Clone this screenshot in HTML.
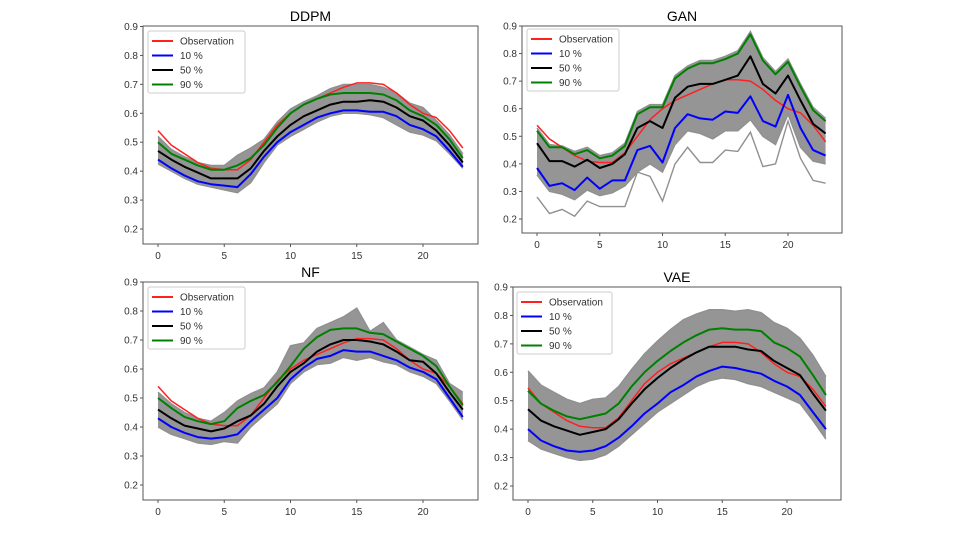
<!DOCTYPE html>
<html><head><meta charset="utf-8"><style>
body{margin:0;background:#fff;}
svg{display:block;font-family:"Liberation Sans",sans-serif;}
</style></head><body>
<svg id="c" width="960" height="540"></svg>
<script>
const hours = Array.from({length:24},(_,i)=>i);
const xTicks = [0,5,10,15,20];
const yTicks = [0.2,0.3,0.4,0.5,0.6,0.7,0.8,0.9];
const obs = [0.54,0.49,0.46,0.43,0.41,0.405,0.405,0.44,0.50,0.56,0.60,0.63,0.65,0.67,0.69,0.705,0.705,0.70,0.67,0.63,0.60,0.585,0.54,0.48];

const ddpmP10 = [0.44,0.41,0.385,0.365,0.355,0.35,0.345,0.39,0.45,0.50,0.535,0.56,0.585,0.60,0.61,0.61,0.605,0.605,0.59,0.56,0.545,0.52,0.47,0.415];
const ddpmP50 = [0.47,0.44,0.415,0.395,0.375,0.375,0.375,0.41,0.47,0.52,0.56,0.59,0.61,0.63,0.64,0.64,0.645,0.64,0.62,0.59,0.575,0.54,0.49,0.43];
const ddpmP90 = [0.50,0.46,0.44,0.42,0.405,0.405,0.42,0.445,0.49,0.55,0.60,0.63,0.65,0.665,0.67,0.67,0.67,0.665,0.645,0.61,0.59,0.56,0.51,0.445];
const ddpmLo = [0.425,0.40,0.375,0.355,0.345,0.335,0.325,0.36,0.43,0.49,0.52,0.545,0.57,0.59,0.60,0.60,0.595,0.585,0.56,0.535,0.525,0.505,0.46,0.41];
const ddpmHi = [0.52,0.475,0.45,0.43,0.42,0.42,0.455,0.48,0.51,0.57,0.615,0.64,0.66,0.685,0.70,0.70,0.70,0.69,0.67,0.635,0.62,0.575,0.525,0.46];

const ganP10 = [0.385,0.32,0.33,0.305,0.35,0.31,0.34,0.34,0.45,0.465,0.405,0.53,0.58,0.565,0.56,0.59,0.585,0.645,0.555,0.535,0.65,0.53,0.45,0.43];
const ganP50 = [0.475,0.41,0.41,0.39,0.415,0.385,0.40,0.435,0.53,0.555,0.53,0.64,0.68,0.69,0.69,0.705,0.72,0.79,0.69,0.655,0.72,0.63,0.545,0.51];
const ganP90 = [0.52,0.46,0.46,0.435,0.45,0.42,0.43,0.465,0.58,0.605,0.605,0.71,0.745,0.765,0.765,0.78,0.80,0.87,0.775,0.725,0.77,0.68,0.595,0.555];
const ganLo = [0.36,0.30,0.29,0.27,0.305,0.285,0.295,0.32,0.37,0.40,0.37,0.47,0.52,0.51,0.49,0.52,0.52,0.56,0.50,0.47,0.58,0.46,0.41,0.40];
const ganHi = [0.53,0.47,0.465,0.445,0.46,0.43,0.44,0.475,0.59,0.615,0.615,0.72,0.755,0.775,0.775,0.79,0.81,0.88,0.785,0.735,0.78,0.69,0.605,0.565];
const ganOut = [0.28,0.22,0.235,0.21,0.265,0.245,0.245,0.245,0.37,0.355,0.265,0.40,0.46,0.405,0.405,0.45,0.445,0.515,0.39,0.40,0.555,0.42,0.34,0.33];

const nfP10 = [0.43,0.40,0.38,0.365,0.36,0.365,0.375,0.42,0.46,0.50,0.565,0.605,0.635,0.645,0.665,0.66,0.66,0.645,0.63,0.605,0.59,0.565,0.50,0.435];
const nfP50 = [0.46,0.43,0.405,0.395,0.385,0.395,0.42,0.44,0.48,0.54,0.59,0.62,0.66,0.685,0.70,0.70,0.695,0.685,0.66,0.63,0.625,0.585,0.52,0.46];
const nfP90 = [0.50,0.465,0.435,0.42,0.41,0.42,0.465,0.49,0.51,0.555,0.61,0.67,0.71,0.735,0.74,0.74,0.725,0.72,0.695,0.67,0.645,0.61,0.54,0.475];
const nfLo = [0.40,0.375,0.36,0.345,0.34,0.35,0.345,0.40,0.44,0.48,0.55,0.59,0.615,0.62,0.64,0.63,0.64,0.625,0.615,0.59,0.575,0.55,0.49,0.425];
const nfHi = [0.52,0.48,0.45,0.43,0.42,0.45,0.49,0.515,0.535,0.59,0.68,0.69,0.74,0.76,0.78,0.81,0.73,0.76,0.70,0.675,0.65,0.63,0.55,0.52];

const vaeObs = [0.545,0.49,0.46,0.43,0.41,0.405,0.405,0.44,0.50,0.56,0.60,0.63,0.65,0.67,0.69,0.705,0.705,0.70,0.67,0.63,0.60,0.585,0.54,0.48];
const vaeP10 = [0.40,0.36,0.34,0.325,0.32,0.325,0.34,0.37,0.41,0.455,0.49,0.53,0.555,0.585,0.605,0.62,0.615,0.605,0.595,0.57,0.55,0.52,0.46,0.40];
const vaeP50 = [0.47,0.43,0.41,0.395,0.38,0.39,0.40,0.435,0.49,0.54,0.58,0.615,0.645,0.67,0.69,0.69,0.69,0.68,0.675,0.64,0.615,0.59,0.525,0.465];
const vaeP90 = [0.535,0.49,0.465,0.445,0.435,0.445,0.455,0.49,0.55,0.60,0.64,0.675,0.705,0.73,0.75,0.755,0.75,0.75,0.745,0.705,0.685,0.655,0.59,0.52];
const vaeLo = [0.36,0.33,0.315,0.30,0.29,0.295,0.31,0.34,0.38,0.42,0.46,0.49,0.52,0.55,0.57,0.58,0.575,0.56,0.55,0.53,0.51,0.49,0.43,0.365];
const vaeHi = [0.605,0.555,0.53,0.505,0.49,0.505,0.51,0.55,0.61,0.665,0.71,0.75,0.785,0.805,0.82,0.82,0.815,0.82,0.81,0.775,0.755,0.72,0.66,0.585];

const NS='http://www.w3.org/2000/svg';
const svg=document.getElementById('c');
function mk(tag,attrs,parent){const e=document.createElementNS(NS,tag);for(const k in attrs)e.setAttribute(k,attrs[k]);(parent||svg).appendChild(e);return e;}

function panel(cfg){
  const g=mk('g',{});
  
  
  const sx=v=>cfg.x0+(v)*(cfg.x20-cfg.x0)/20;
  const sy=v=>cfg.y9+(0.9-v)*(cfg.y2-cfg.y9)/0.7;
  const pts=arr=>arr.map((v,i)=>sx(hours[i]).toFixed(1)+','+sy(v).toFixed(1)).join(' ');
  const band=mk('polygon',{points:pts(cfg.lo)+' '+cfg.hi.map((v,i)=>[sx(hours[i]).toFixed(1),sy(v).toFixed(1)].join(',')).reverse().join(' '),fill:'#959595'},g);
  
  
  const grays=[cfg.lo,cfg.hi].concat(cfg.extra||[]);
  grays.forEach(a=>{const l=mk('polyline',{points:pts(a),fill:'none',stroke:'#909090','stroke-width':1.4},g);
    
    });
  const series=[[cfg.obs,'#ff2020',1.5,'observation'],[cfg.p10,'#0000ff',2,'p10'],[cfg.p50,'#000000',2,'p50'],[cfg.p90,'#008000',2,'p90']];
  series.forEach(s=>{const l=mk('polyline',{points:pts(s[0]),fill:'none',stroke:s[1],'stroke-width':s[2],'stroke-linejoin':'round'},g);
    
    });
  const fr=mk('rect',{x:cfg.L,y:cfg.T,width:cfg.R-cfg.L,height:cfg.B-cfg.T,fill:'none',stroke:'#555','stroke-width':1},g);
  
  
  xTicks.forEach(t=>{const x=sx(t);mk('line',{x1:x,x2:x,y1:cfg.B,y2:cfg.B+3,stroke:'#555'},g);
    const tx=mk('text',{x:x,y:cfg.B+15,'font-size':10,fill:'#333','text-anchor':'middle'},g);tx.textContent=t;
    
    });
  yTicks.forEach(t=>{const y=sy(t);mk('line',{x1:cfg.L-3,x2:cfg.L,y1:y,y2:y,stroke:'#555'},g);
    const tx=mk('text',{x:cfg.L-5,y:y+3.5,'font-size':10,fill:'#333','text-anchor':'end'},g);tx.textContent=t.toFixed(1);
    
    });
  const ti=mk('text',{x:(cfg.L+cfg.R)/2,y:cfg.T-5,'font-size':14,fill:'#000','text-anchor':'middle'},g);ti.textContent=cfg.title;
  
  
  const lg=mk('g',{},g);
  
  
  mk('rect',{x:cfg.lx,y:cfg.ly,width:cfg.lw,height:62,rx:2,fill:'#fff','fill-opacity':0.85,stroke:'#ccc'},lg);
  const labels=['Observation','10 %','50 %','90 %'];
  series.forEach((s,i)=>{const y=cfg.ly+10+i*14.5;
    mk('line',{x1:cfg.lx+4,x2:cfg.lx+25,y1:y,y2:y,stroke:s[1],'stroke-width':2},lg);
    const t=mk('text',{x:cfg.lx+32,y:y+3.5,'font-size':10,fill:'#333'},lg);t.textContent=labels[i];
    
    });
}
panel({key:'ddpm',title:'DDPM',L:143,R:478,T:26,B:244,x0:158,x20:423,y9:26.5,y2:229,obs:obs,p10:ddpmP10,p50:ddpmP50,p90:ddpmP90,lo:ddpmLo,hi:ddpmHi,lx:148,ly:31,lw:97});
panel({key:'gan',title:'GAN',L:522,R:842,T:26,B:233,x0:537,x20:788,y9:26,y2:219,obs:obs,p10:ganP10,p50:ganP50,p90:ganP90,lo:ganLo,hi:ganHi,extra:[ganOut],lx:527,ly:29,lw:92});
panel({key:'nf',title:'NF',L:143,R:478,T:282,B:500,x0:158,x20:423,y9:282,y2:485,obs:obs,p10:nfP10,p50:nfP50,p90:nfP90,lo:nfLo,hi:nfHi,lx:148,ly:287,lw:97});
panel({key:'vae',title:'VAE',L:513,R:841,T:287,B:500,x0:528,x20:787,y9:287,y2:486,obs:vaeObs,p10:vaeP10,p50:vaeP50,p90:vaeP90,lo:vaeLo,hi:vaeHi,lx:517,ly:292,lw:95});
</script>
</body></html>
